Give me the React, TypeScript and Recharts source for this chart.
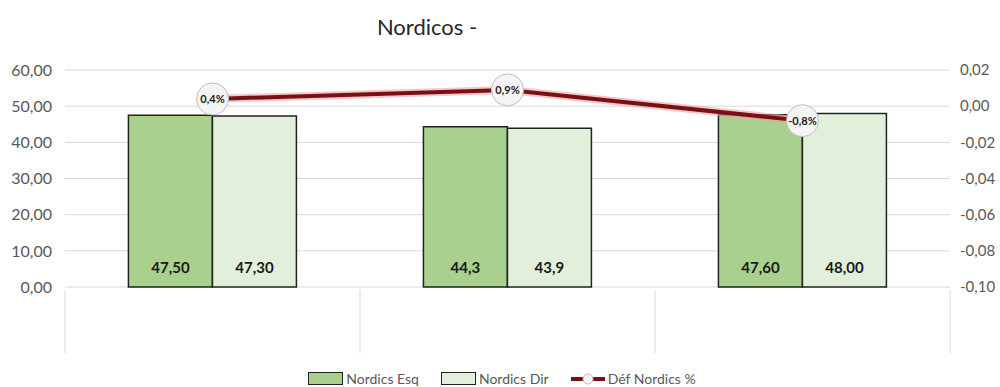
import {
  ComposedChart,
  Bar,
  Line,
  XAxis,
  YAxis,
  CartesianGrid,
  Legend,
  LabelList,
} from 'recharts';

const categories = ['A', 'B', 'C'];
const esqValues = [47.5, 44.3, 47.6];
const dirValues = [47.3, 43.9, 48.0];
const esqLabels = ['47,50', '44,3', '47,60'];
const dirLabels = ['47,30', '43,9', '48,00'];
const defValues = [0.004, 0.009, -0.008];
const leftTicks = [0, 10, 20, 30, 40, 50, 60];
const rightTicks = [-0.1, -0.08, -0.06, -0.04, -0.02, 0, 0.02];

const FONT = 'Lato, "Open Sans", sans-serif';
const GRID = '#D9D9D9';
const TEXT = '#595959';
const ESQ_COLOR = '#A9D08E';
const DIR_COLOR = '#E2EFDA';
const LINE_COLOR = '#7A1014';

const data = categories.map((c, i) => ({
  name: c,
  esq: esqValues[i],
  dir: dirValues[i],
  def: defValues[i],
}));

const fmtAxis = (v: number) => v.toFixed(2).replace('.', ',');
const fmtPct = (v: number) => (v * 100).toFixed(1).replace('.', ',') + '%';

function makeBarLabel(labels: string[]) {
  return function BarLabel(props: any) {
    const { x, y, width, height, index } = props;
    return (
      <text
        x={Number(x) + Number(width) / 2}
        y={Number(y) + Number(height) - 20}
        textAnchor="middle"
        dominantBaseline="central"
        fontFamily={FONT}
        fontWeight={700}
        fontSize={15}
        fill="#1a1a1a"
      >
        {labels[index]}
      </text>
    );
  };
}

function DefDot(props: any) {
  const { cx, cy, value, index } = props;
  if (cx == null || cy == null) return null;
  return (
    <g key={`dot-${index}`}>
      <circle cx={cx} cy={cy} r={16} fill="#F4F4F4" stroke="#BFBFBF" strokeWidth={1} />
      <text
        x={cx}
        y={cy}
        textAnchor="middle"
        dominantBaseline="central"
        fontFamily={FONT}
        fontWeight={700}
        fontSize={11}
        fill="#1a1a1a"
      >
        {fmtPct(value)}
      </text>
    </g>
  );
}

// Excel-style empty category boxes below the plot
function CategoryTick(props: any) {
  const { x, y, payload, index, visibleTicksCount } = props;
  const half = payload && payload.offset ? payload.offset : 147.5;
  const top = Number(y) + 3;
  const bottom = Number(y) + 66;
  return (
    <g>
      <line x1={x - half} x2={x - half} y1={top} y2={bottom} stroke={GRID} strokeWidth={1} />
      {index === (visibleTicksCount ?? categories.length) - 1 && (
        <line x1={x + half} x2={x + half} y1={top} y2={bottom} stroke={GRID} strokeWidth={1} />
      )}
    </g>
  );
}

function LegendContent() {
  const item = { display: 'flex', alignItems: 'center', marginRight: 22 } as const;
  const label = { fontFamily: FONT, fontSize: 14, color: TEXT, marginLeft: 3 };
  return (
    <div
      style={{
        display: 'flex',
        justifyContent: 'center',
        alignItems: 'center',
        paddingTop: 8,
        paddingLeft: 26,
      }}
    >
      <div style={item}>
        <div style={{ width: 33, height: 11, background: ESQ_COLOR, border: '1.5px solid #222' }} />
        <span style={label}>Nordics Esq</span>
      </div>
      <div style={item}>
        <div style={{ width: 33, height: 11, background: DIR_COLOR, border: '1.5px solid #222' }} />
        <span style={label}>Nordics Dir</span>
      </div>
      <div style={item}>
        <svg width={34} height={14}>
          <line x1={0} x2={34} y1={7} y2={7} stroke={LINE_COLOR} strokeWidth={4} />
          <circle cx={17} cy={7} r={5} fill="#F4F4F4" stroke="#BFBFBF" />
        </svg>
        <span style={label}>Déf Nordics %</span>
      </div>
    </div>
  );
}

export default function App() {
  return (
    <div style={{ position: 'absolute', left: 0, top: 0, width: 1000, height: 387, background: '#fff' }}>
      <div
        style={{
          position: 'absolute',
          left: 327,
          width: 200,
          top: 13,
          textAlign: 'center',
          fontFamily: FONT,
          fontSize: 22,
          color: '#262626',
          zIndex: 2,
        }}
      >
        Nordicos -
      </div>
      <ComposedChart
        width={1000}
        height={387}
        data={data}
        margin={{ top: 70, right: 0, left: 0, bottom: 0 }}
        barCategoryGap="21.5%"
        barGap={0}
      >
        <CartesianGrid yAxisId="left" horizontal vertical={false} stroke={GRID} />
        <XAxis
          dataKey="name"
          height={75}
          axisLine={false}
          tickLine={false}
          tickSize={0}
          tickMargin={0}
          interval={0}
          tick={<CategoryTick />}
        />
        <YAxis
          yAxisId="left"
          width={65}
          domain={[0, 60]}
          ticks={leftTicks}
          tickFormatter={fmtAxis}
          axisLine={false}
          tickLine={false}
          tickMargin={7}
          tick={{ fontFamily: FONT, fontSize: 16, fill: TEXT }}
        />
        <YAxis
          yAxisId="right"
          orientation="right"
          width={50}
          domain={[-0.1, 0.02]}
          ticks={rightTicks}
          tickFormatter={fmtAxis}
          axisLine={false}
          tickLine={false}
          tickSize={0}
          tickMargin={10}
          tick={{ fontFamily: FONT, fontSize: 15, fill: TEXT }}
        />
        <Legend verticalAlign="bottom" height={25} content={<LegendContent />} />
        <Bar yAxisId="left" dataKey="esq" fill={ESQ_COLOR} stroke="#222" strokeWidth={1.5} isAnimationActive={false}>
          <LabelList dataKey="esq" content={makeBarLabel(esqLabels)} />
        </Bar>
        <Bar yAxisId="left" dataKey="dir" fill={DIR_COLOR} stroke="#222" strokeWidth={1.5} isAnimationActive={false}>
          <LabelList dataKey="dir" content={makeBarLabel(dirLabels)} />
        </Bar>
        <Line
          yAxisId="right"
          dataKey="def"
          stroke="#E9A3A3"
          strokeWidth={8}
          strokeOpacity={0.6}
          dot={false}
          activeDot={false}
          legendType="none"
          isAnimationActive={false}
        />
        <Line
          yAxisId="right"
          dataKey="def"
          stroke={LINE_COLOR}
          strokeWidth={4}
          dot={<DefDot />}
          activeDot={false}
          isAnimationActive={false}
        />
      </ComposedChart>
    </div>
  );
}
